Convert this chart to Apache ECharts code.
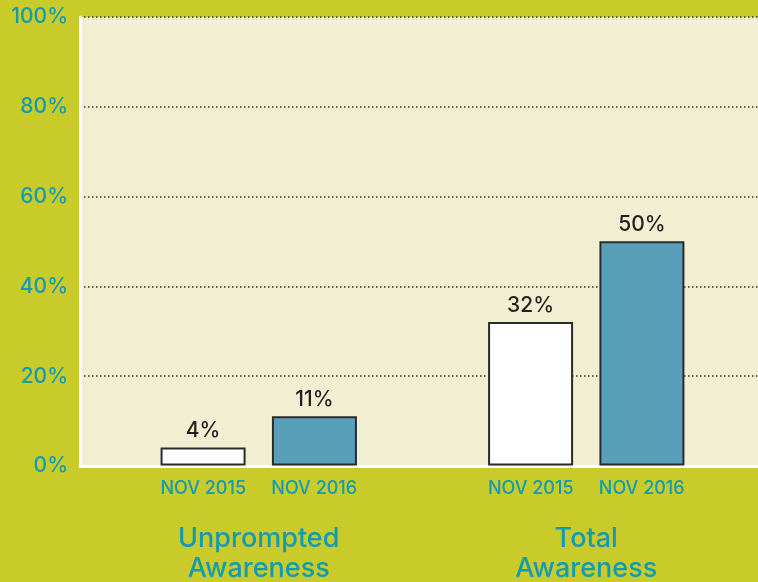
<!DOCTYPE html>
<html>
<head>
<meta charset="utf-8">
<script src="https://cdn.jsdelivr.net/npm/echarts@6/dist/echarts.min.js"></script>
<style>
  html, body { margin: 0; padding: 0; background: #c9cb2a; }
</style>
</head>
<body>
<div id="main" style="width:758px;height:582px;"></div>
<script type="text/javascript">
  // data
  var groups = ['Unprompted Awareness', 'Total Awareness'];
  var periods = ['NOV 2015', 'NOV 2016'];
  var nov2015 = [4, 32];
  var nov2016 = [11, 50];
  var yTicks = [0, 20, 40, 60, 80, 100];

  var teal = '#109bb2';
  var font = 'Inter';

  var myChart = echarts.init(document.getElementById('main'));

  function barLabel() {
    return {
      show: true,
      position: 'top',
      distance: 6,
      formatter: '{c}%',
      color: '#231f20',
      fontFamily: font,
      fontWeight: 500,
      fontSize: 21
    };
  }

  var option = {
    backgroundColor: '#c9cb2a',
    animation: false,
    grid: [
      // background + gridlines
      { left: 80, right: 0, top: 17, bottom: 116, show: true, backgroundColor: '#f2eed2', borderWidth: 0 },
      // bars
      { left: 95, right: 8, top: 17, bottom: 116 }
    ],
    xAxis: [
      {
        gridIndex: 0,
        type: 'category',
        data: groups,
        axisLine: { show: true, lineStyle: { color: '#ffffff', width: 3 } },
        axisTick: { show: false },
        axisLabel: { show: false }
      },
      {
        gridIndex: 1,
        type: 'category',
        data: groups,
        axisLine: { show: false },
        axisTick: { show: false },
        axisLabel: {
          margin: 13,
          formatter: function (v) {
            var words = v.split(' ');
            var top = periods.map(function (p) { return '{d|' + p + '}'; }).join('');
            return top + '\n{s| }\n' + words.map(function (w) { return '{t|' + w + '}'; }).join('\n');
          },
          rich: {
            d: { width: 111, align: 'center', fontSize: 18, fontWeight: 500, lineHeight: 20, color: teal, fontFamily: font },
            s: { fontSize: 10, lineHeight: 25 },
            t: { fontSize: 27, fontWeight: 500, lineHeight: 30, color: teal, fontFamily: font }
          }
        }
      }
    ],
    yAxis: [
      {
        gridIndex: 0,
        type: 'value',
        min: yTicks[0],
        max: yTicks[yTicks.length - 1],
        interval: 20,
        axisLine: { show: true, lineStyle: { color: '#ffffff', width: 3 } },
        axisTick: { show: false },
        axisLabel: {
          formatter: '{value}%',
          color: teal,
          fontFamily: font,
          fontWeight: 500,
          fontSize: 21,
          margin: 12
        },
        splitLine: { show: true, lineStyle: { color: '#333333', type: [1.5, 2.5], width: 1.5 } }
      },
      {
        gridIndex: 1,
        type: 'value',
        min: 0,
        max: 100,
        show: false
      }
    ],
    series: [
      {
        name: periods[0],
        type: 'bar',
        xAxisIndex: 1,
        yAxisIndex: 1,
        barWidth: 85,
        barGap: '31%',
        data: nov2015,
        itemStyle: { color: '#ffffff', borderColor: '#2b2b2b', borderWidth: 2 },
        label: barLabel()
      },
      {
        name: periods[1],
        type: 'bar',
        xAxisIndex: 1,
        yAxisIndex: 1,
        barWidth: 85,
        data: nov2016,
        itemStyle: { color: '#58a0b9', borderColor: '#2b2b2b', borderWidth: 2 },
        label: barLabel()
      }
    ]
  };
  myChart.setOption(option);
</script>
</body>
</html>
